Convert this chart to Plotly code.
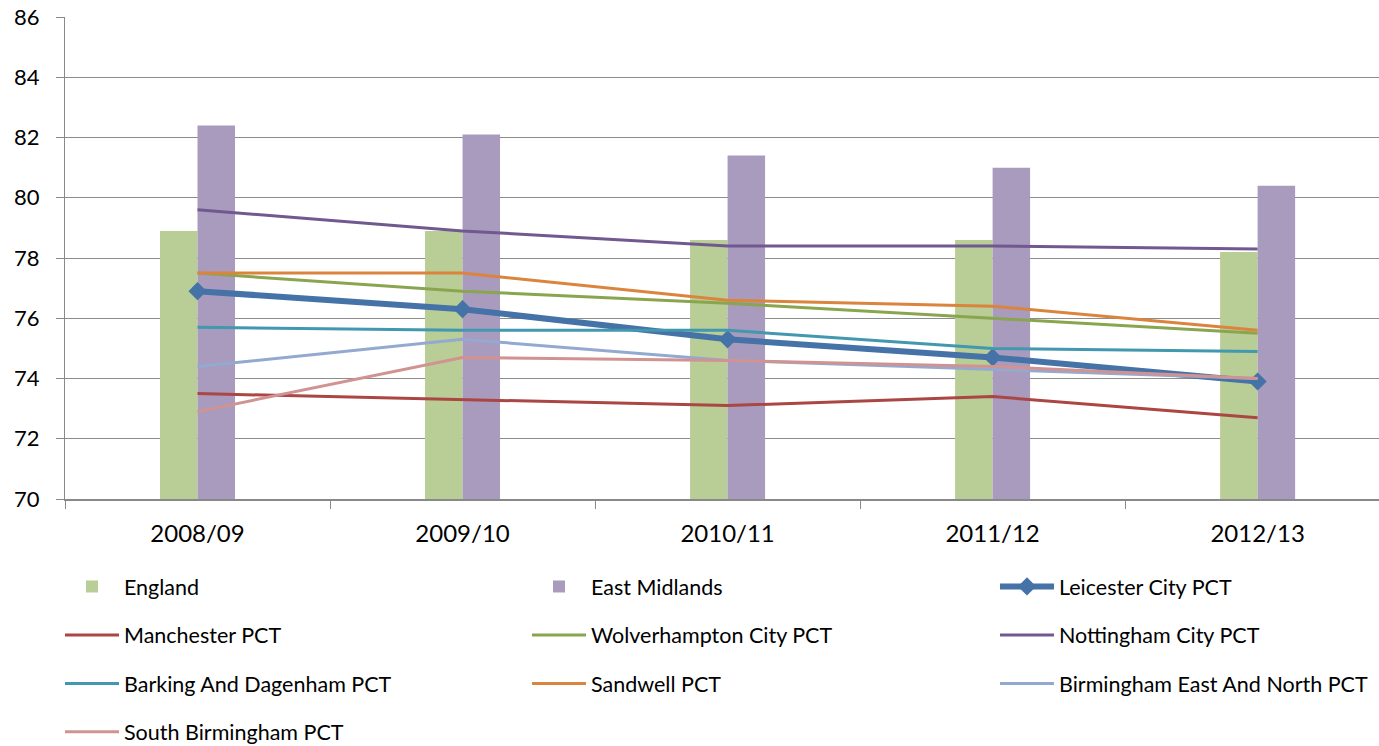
import plotly.graph_objects as go

years = ["2008/09", "2009/10", "2010/11", "2011/12", "2012/13"]

england = [78.9, 78.9, 78.6, 78.6, 78.2]
east_midlands = [82.4, 82.1, 81.4, 81.0, 80.4]
leicester = [76.9, 76.3, 75.3, 74.7, 73.9]
manchester = [73.5, 73.3, 73.1, 73.4, 72.7]
wolverhampton = [77.5, 76.9, 76.5, 76.0, 75.5]
nottingham = [79.6, 78.9, 78.4, 78.4, 78.3]
barking = [75.7, 75.6, 75.6, 75.0, 74.9]
sandwell = [77.5, 77.5, 76.6, 76.4, 75.6]
birm_east_north = [74.4, 75.3, 74.6, 74.3, 74.0]
south_birm = [72.9, 74.7, 74.6, 74.4, 74.0]

FONT = "Lato"
fig = go.Figure()

fig.add_trace(go.Bar(x=years, y=england, name="England", marker_color="#B9CD96",
                     marker_line_width=0, legend="legend", legendgroup="g1"))
fig.add_trace(go.Bar(x=years, y=east_midlands, name="East Midlands", marker_color="#A99BBD",
                     marker_line_width=0, legend="legend2", legendgroup="g2"))

lines = [
    ("Leicester City PCT", leicester, "#4572A7", 6, "legend3"),
    ("Manchester PCT", manchester, "#AA4643", 3, "legend"),
    ("Wolverhampton City PCT", wolverhampton, "#89A54E", 3, "legend2"),
    ("Nottingham City PCT", nottingham, "#71588F", 3, "legend3"),
    ("Barking And Dagenham PCT", barking, "#4198AF", 3, "legend"),
    ("Sandwell PCT", sandwell, "#DB843D", 3, "legend2"),
    ("Birmingham East And North PCT", birm_east_north, "#93A9CF", 3, "legend3"),
    ("South Birmingham PCT", south_birm, "#D19392", 3, "legend"),
]
for i, (name, vals, col, w, lg) in enumerate(lines):
    if name.startswith("Leicester"):
        fig.add_trace(go.Scatter(x=years, y=vals, name=name, mode="lines+markers",
                                 line=dict(color=col, width=w),
                                 marker=dict(symbol="diamond", size=14, color=col),
                                 legend=lg, legendgroup="l%d" % i))
    else:
        fig.add_trace(go.Scatter(x=years, y=vals, name=name, mode="lines",
                                 line=dict(color=col, width=w),
                                 legend=lg, legendgroup="l%d" % i))

W, H = 1379.0, 746.0

def cx(p):
    return p / W

def cy(p):
    return 1 - p / H

leg_common = dict(orientation="v", xref="container", yref="container",
                  xanchor="left", yanchor="top", tracegroupgap=17.5,
                  itemwidth=54, font=dict(family=FONT, size=21.5, color="#000000"),
                  bgcolor="rgba(0,0,0,0)", traceorder="grouped")

fig.update_layout(
    width=1379, height=746,
    margin=dict(l=65, r=0, t=17, b=247, autoexpand=False),
    paper_bgcolor="white", plot_bgcolor="white",
    barmode="group", bargap=0.717, bargroupgap=0,
    font=dict(family=FONT, color="#000000"),
    showlegend=True,
    legend=dict(x=cx(60), y=cy(566), **leg_common),
    legend2=dict(x=cx(527), y=cy(566), **leg_common),
    legend3=dict(x=cx(995), y=cy(566), **leg_common),
    xaxis=dict(type="category", range=[-0.5, 4.458], showgrid=False, automargin=False,
               showline=True, linecolor="#898989", linewidth=2,
               ticks="outside", tickson="boundaries", ticklen=8, tickcolor="#898989",
               tickwidth=1, tickfont=dict(family=FONT, size=24, color="#000000"),
               ticklabelstandoff=12),
    yaxis=dict(range=[70, 86], dtick=2, tick0=70, showgrid=True, gridcolor="#8c8c8c",
               gridwidth=1, showline=True, linecolor="#898989", linewidth=1,
               automargin=False,
               ticks="outside", ticklen=8, tickcolor="#898989",
               tickfont=dict(family=FONT, size=22, color="#000000"),
               ticklabelstandoff=12, zeroline=False),
)

fig.write_html("out.html", config={"displayModeBar": False},
               post_script="document.body.style.margin='0';document.body.style.padding='0';document.body.style.overflow='hidden';")
